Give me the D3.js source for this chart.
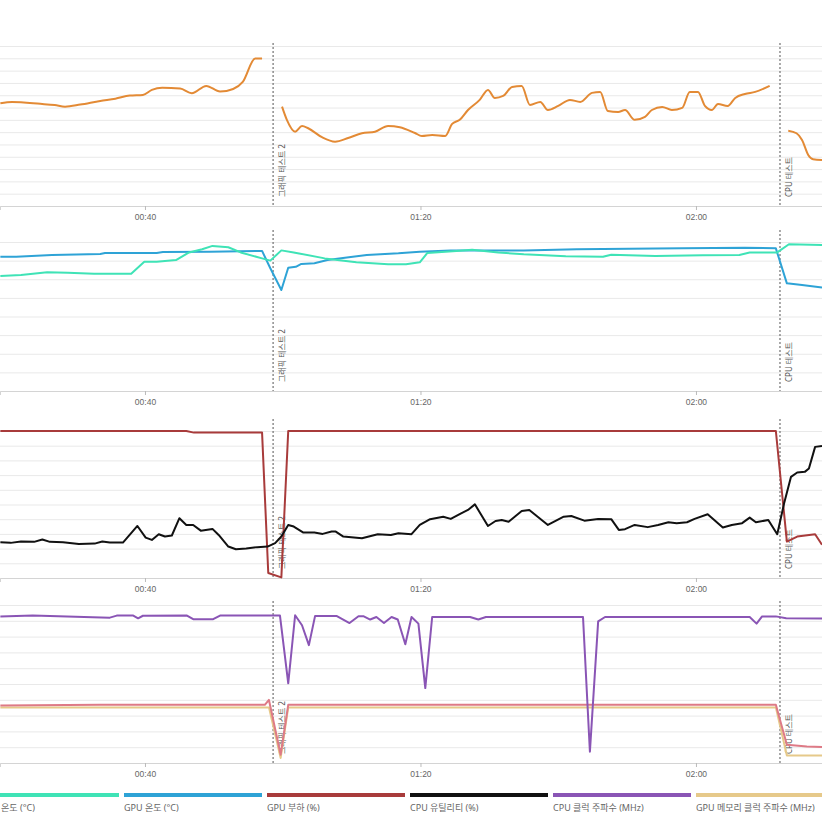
<!DOCTYPE html>
<html>
<head>
<meta charset="utf-8">
<script src="https://cdn.jsdelivr.net/npm/d3@7"></script>
<style>
body { margin: 0; background: #fff; }
svg { display: block; font-family: "Noto Sans", "Noto Sans CJK KR", sans-serif; }
</style>
</head>
<body>
<script>
// time is in minutes since start of log
var timeTicks = [40, 80, 120];
var tickLabels = ["00:40", "01:20", "02:00"];
var markerTimes = [58.6, 132.2];
var markerLabels = ["그래픽 테스트 2", "CPU 테스트"];

// panel 1 (null = gap in log)
var powerData = [[19.0,83.5],[20.7,84.5],[24.8,83],[26.9,82],[28.4,80.7],[30.6,82.4],[33.5,85.4],[35.7,87.2],[37.8,89.7],[39.7,90.2],[41.0,94.3],[42.5,96],[45.1,95.4],[46.8,91.6],[48.9,97.6],[50.9,93],[52.8,95.1],[54.2,100.8],[56.0,119.8],[57.0,119.8],[58.5,null],
  [59.9,80.7],[60.6,70],[61.8,60.4],[62.8,65],[63.7,63.2],[65.7,55.9],[67.6,52.3],[69.5,55.3],[71.5,59.1],[73.4,60.4],[75.3,65],[77.0,64],[79.2,59.3],[80.2,56.9],[81.7,57.7],[83.6,56.9],[84.6,66.7],[85.7,70],[86.9,78],[88.6,86.2],[89.8,94.3],[90.8,87.8],[92.0,89.4],[93.3,96.7],[94.7,97.6],[95.9,82.1],[97.4,84.6],[98.5,78],[100.0,81.3],[101.7,86.2],[103.2,84.6],[104.9,91.9],[106.1,92.7],[107.2,77.2],[108.7,76.4],[109.7,78],[111.1,70],[112.6,72.4],[113.6,78],[115.1,80.5],[116.5,78],[118.0,79.7],[119.1,92.7],[120.3,92.7],[121.3,81.3],[122.3,78],[123.2,82.9],[124.6,81.3],[125.7,87.8],[127.1,91],[128.6,92.7],[130.7,97.6],[132.0,null],
  [133.4,61.2],[134.6,59.1],[135.4,53.7],[136.3,41.5],[137.0,38],[138.3,37.4]];

// panel 2
var cpuTemp = [[19.0,61.7],[22.0,62.3],[25.8,63.7],[28.8,63.5],[32.6,63],[38.0,63],[39.9,69.4],[41.7,69.4],[44.5,70.3],[46.4,74.4],[48.3,76.1],[49.8,77.9],[52.1,77.2],[53.9,74.4],[57.0,71.2],[58.2,70],[59.8,75.5],[61.6,74.4],[66.1,71.2],[70.7,69.1],[75.3,68],[77.9,68],[79.9,69.1],[81.0,74.1],[85.2,75.2],[87.5,75.9],[91.3,74.4],[95.0,73.4],[101.1,72.3],[106.5,72.1],[107.7,73.2],[114.1,72.5],[121.0,72.9],[126.3,73],[127.8,74.4],[131.8,74.4],[133.5,78.8],[138.3,78.4]];
var gpuTemp = [[19.0,72.1],[21.3,72.1],[26.5,73],[33.5,73.6],[34.2,74.1],[41.7,74.1],[42.6,74.6],[49.4,74.8],[57.0,75.2],[58.2,65.9],[59.8,54.2],[60.8,66.2],[61.9,66.7],[62.7,68.2],[64.6,68.6],[66.5,70.3],[69.6,71.8],[72.2,73],[76.8,73.9],[79.9,74.8],[84.4,75.5],[95.0,75.5],[102.7,76.1],[110.3,76.4],[118.0,76.6],[127.1,76.9],[131.6,76.6],[133.2,57.8],[135.4,56.9],[138.3,55.5]];

// panel 3
var gpuLoad = [[19.0,100],[46.0,100],[47.1,98.9],[57.0,98.9],[57.9,3.4],[59.8,0.4],[60.8,100],[131.6,100],[133.2,24.8],[134.7,28.2],[137.3,29.8],[138.3,22.6]];
var cpuUtil = [[19.0,24.4],[20.5,23.9],[22.0,24.8],[23.9,24.6],[25.1,26.2],[26.2,24.6],[28.1,24.4],[30.4,23.2],[32.7,23.4],[33.8,24.8],[34.9,24.1],[36.8,24.1],[38.9,35.4],[40.1,27.5],[41.0,25.9],[42.0,29.8],[42.9,28.2],[43.9,28.9],[45.0,40.7],[46.0,36.1],[47.0,36.1],[48.1,32.2],[49.8,33.4],[50.7,29.3],[52.1,21.4],[53.2,19.6],[54.7,20.1],[56.3,21],[57.8,21.4],[58.9,23.7],[59.8,28.2],[60.8,36.1],[61.6,35],[63.0,30.9],[64.6,30.9],[65.8,30],[67.1,31.6],[67.7,31.6],[68.8,28.2],[71.5,27.1],[73.8,29.8],[75.7,29.3],[76.8,30.5],[78.7,29.8],[79.9,36.1],[81.4,40],[83.3,41.7],[84.4,40.2],[85.9,44],[86.9,46.3],[87.9,50.1],[89.8,35.4],[90.9,38.8],[91.8,39.5],[92.8,38.3],[94.7,45.6],[95.8,46.3],[98.5,36.1],[100.8,41.7],[101.9,42.2],[103.8,39],[105.8,40.2],[107.7,40],[108.8,32.7],[109.7,33.2],[111.1,36.1],[113.0,34.6],[114.5,36.1],[116.0,37.9],[117.2,37.3],[118.7,37.9],[119.8,40.2],[121.7,43.4],[123.9,34.3],[125.2,36.1],[126.7,37.3],[127.8,41.1],[128.7,37.9],[130.5,39.5],[131.8,29.8],[132.8,50.8],[133.8,68.8],[134.7,71.8],[135.8,72.2],[136.4,74.5],[137.3,89.2],[138.3,89.8]];

// panel 4
var memClock = [[19.0,1760],[57.4,1760],[58.0,1760],[59.7,160],[60.8,1760],[131.6,1760],[133.2,240],[138.3,240]];
var gpuClock = [[19.0,1816],[33.5,1840],[57.4,1840],[58.0,1996],[59.7,262],[60.8,1840],[131.6,1840],[133.2,577],[136.1,524],[138.3,504]];
var cpuClock = [[19.0,4640],[23.7,4670],[34.9,4600],[35.9,4665],[38.3,4665],[39.0,4580],[39.7,4660],[46.1,4665],[47.0,4550],[49.9,4550],[50.9,4665],[59.6,4665],[60.8,2520],[61.8,4675],[62.8,4360],[63.8,3730],[64.7,4655],[67.8,4655],[69.7,4430],[71.0,4645],[71.7,4645],[72.7,4540],[73.6,4620],[74.7,4430],[75.8,4620],[76.7,4540],[77.8,3760],[78.7,4620],[79.7,4410],[80.7,2370],[81.7,4620],[87.2,4620],[88.4,4540],[89.5,4620],[103.6,4620],[104.6,360],[105.8,4480],[106.8,4620],[127.8,4620],[128.8,4410],[129.6,4640],[131.6,4640],[133.1,4580],[138.3,4570]];

var legendNames = ["CPU 온도 (°C)", "GPU 온도 (°C)", "GPU 부하 (%)", "CPU 유틸리티 (%)", "CPU 클럭 주파수 (MHz)", "GPU 메모리 클럭 주파수 (MHz)"];
var legendColors = ["#3fe3b6", "#2ea3d6", "#a83b3b", "#111111", "#8a55b5", "#e6c98a"];

var width = 822, height = 822;

var panels = [
  {top: 43, bottom: 206, gridTop: 46, max: 130, step: 10,
   series: [{data: powerData, color: "#e38a35", curve: d3.curveMonotoneX}]},
  {top: 230, bottom: 391, gridTop: 242, max: 80, step: 10,
   series: [{data: gpuTemp, color: "#2ea3d6"}, {data: cpuTemp, color: "#3fe3b6"}]},
  {top: 419, bottom: 578, gridTop: 431, max: 100, step: 10,
   series: [{data: gpuLoad, color: "#a83b3b"}, {data: cpuUtil, color: "#111111"}]},
  {top: 601, bottom: 763, gridTop: 605, max: 5000, step: 500,
   series: [{data: memClock, color: "#e6c98a"}, {data: gpuClock, color: "#de7a86"}, {data: cpuClock, color: "#8a55b5"}]}
];

var x = d3.scaleLinear()
    .domain([18.95, 138.3])
    .range([0, width]);

var svg = d3.select("body").append("svg")
    .attr("width", width)
    .attr("height", height);

panels.forEach(function(p) {
  var y = d3.scaleLinear()
      .domain([0, p.max])
      .range([p.bottom, p.gridTop]);

  var g = svg.append("g");

  // horizontal grid
  g.append("g")
      .call(d3.axisLeft(y).tickValues(d3.range(0, p.max + 1, p.step)).tickSize(-width).tickFormat(""))
      .call(function(a) { a.select(".domain").remove(); })
      .selectAll("line")
      .attr("stroke", "#e9e9e9");

  // time axis
  g.append("g")
      .attr("transform", "translate(0," + p.bottom + ")")
      .call(d3.axisBottom(x).tickValues(timeTicks).tickSize(4).tickPadding(4)
        .tickFormat(function(d, i) { return tickLabels[i]; }))
      .call(function(a) {
        a.select(".domain").attr("stroke", "#d4d4d4");
        a.selectAll(".tick line").attr("stroke", "#bbb");
        a.selectAll("text").attr("fill", "#666").style("font-size", "8.5px");
      });

  // test markers
  markerTimes.forEach(function(t, i) {
    g.append("line")
        .attr("x1", x(t)).attr("x2", x(t))
        .attr("y1", p.top).attr("y2", p.bottom)
        .attr("stroke", "#555")
        .attr("stroke-dasharray", "2,2");
    g.append("text")
        .attr("transform", "translate(" + (x(t) + 12) + "," + (p.bottom - 9) + ") rotate(-90)")
        .attr("fill", "#555")
        .style("font-size", "8px")
        .text(markerLabels[i]);
  });

  p.series.forEach(function(s) {
    var line = d3.line()
        .defined(function(d) { return d[1] != null; })
        .x(function(d) { return x(d[0]); })
        .y(function(d) { return y(d[1]); })
        .curve(s.curve || d3.curveLinear);
    g.append("path")
        .datum(s.data)
        .attr("fill", "none")
        .attr("stroke", s.color)
        .attr("stroke-width", 2)
        .attr("stroke-linejoin", "round")
        .attr("d", line);
  });
});

// legend
var legend = svg.selectAll(".legend")
    .data(legendNames)
    .enter().append("g")
    .attr("class", "legend")
    .attr("transform", function(d, i) { return "translate(" + (-19 + i * 143) + ",793)"; });

legend.append("rect")
    .attr("width", 138)
    .attr("height", 4)
    .attr("fill", function(d, i) { return legendColors[i]; });

legend.append("text")
    .attr("y", 18)
    .attr("fill", "#666")
    .style("font-size", "9px")
    .text(function(d) { return d; });
</script>
</body>
</html>
